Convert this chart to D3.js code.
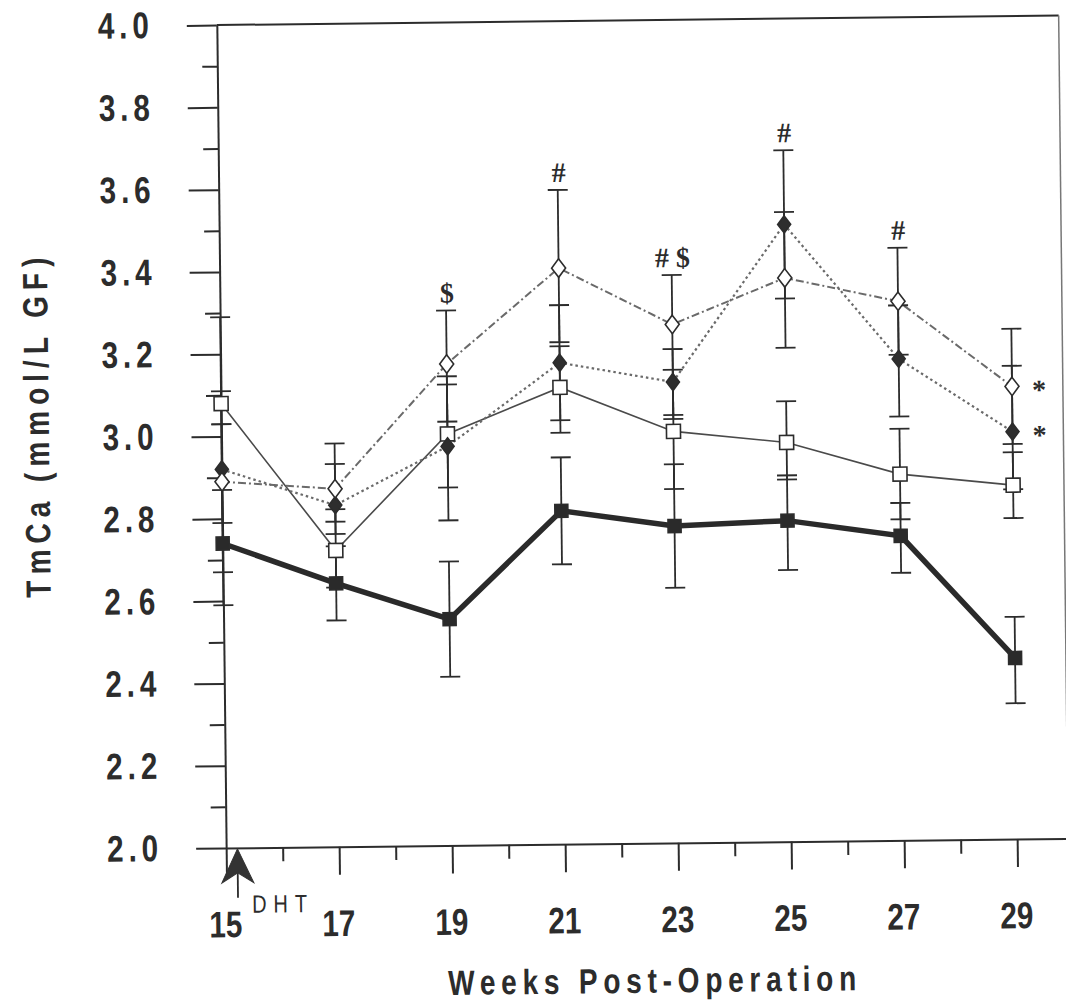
<!DOCTYPE html>
<html>
<head>
<meta charset="utf-8">
<script src="https://cdn.jsdelivr.net/npm/d3@7"></script>
<style>
  body { margin: 0; background: #fff; }
  svg { display: block; }
</style>
</head>
<body>
<svg id="chart" width="1066" height="1004"></svg>
<script>
// ---- Data -------------------------------------------------------------
const weeks = [15, 17, 19, 21, 23, 25, 27, 29];
const xTickLabels = ["15", "17", "19", "21", "23", "25", "27", "29"];
const xMinorWeeks = [16, 18, 20, 22, 24, 26, 28];
const yTickValues = [2.0, 2.2, 2.4, 2.6, 2.8, 3.0, 3.2, 3.4, 3.6, 3.8, 4.0];
const yTickLabels = ["2.0", "2.2", "2.4", "2.6", "2.8", "3.0", "3.2", "3.4", "3.6", "3.8", "4.0"];
const yMinorValues = [2.1, 2.3, 2.5, 2.7, 2.9, 3.1, 3.3, 3.5, 3.7, 3.9];

// Group means with lower / upper error-bar ends (mmol/L GF)
const openDiamondMean = [2.89, 2.87, 3.17, 3.40, 3.26, 3.37, 3.31, 3.10];
const openDiamondLow  = [2.67, 2.76, 3.03, 3.22, 3.03, 3.20, 3.18, 2.96];
const openDiamondHigh = [3.29, 2.98, 3.30, 3.59, 3.38, 3.53, 3.44, 3.24];

const filledDiamondMean = [2.92, 2.83, 2.97, 3.17, 3.12, 3.50, 3.17, 2.99];
const filledDiamondLow  = [2.79, 2.79, 2.79, 3.03, 3.04, 3.32, 3.03, 2.85];
const filledDiamondHigh = [3.03, 2.93, 3.14, 3.31, 3.20, 3.68, 3.30, 3.15];

const openSquareMean = [3.08, 2.72, 3.00, 3.11, 3.00, 2.97, 2.89, 2.86];
const openSquareLow  = [3.03, 2.63, 2.87, 3.00, 2.86, 2.88, 2.78, 2.78];
const openSquareHigh = [3.11, 2.82, 3.12, 3.21, 3.15, 3.07, 3.00, 2.94];

const filledSquareMean = [2.74, 2.64, 2.55, 2.81, 2.77, 2.78, 2.74, 2.44];
const filledSquareLow  = [2.59, 2.55, 2.41, 2.68, 2.62, 2.66, 2.65, 2.33];
const filledSquareHigh = [2.87, 2.73, 2.69, 2.94, 2.92, 2.89, 2.82, 2.54];

// Significance marks placed above the tallest error bar of a week
const markWeeks = [19, 21, 23, 25, 27];
const markTexts = ["$", "#", "# $", "#", "#"];
// Series flagged at the final week
const starredSeries = ["openDiamond", "filledDiamond"];
const starText = "*";

// Start of DHT treatment
const dhtWeek = 15.2;
const dhtLabel = "DHT";

const xTitle = "Weeks Post-Operation";
const yTitle = "TmCa (mmol/L GF)";

// ---- Layout -----------------------------------------------------------
const W = 1066, H = 1004;
const SANS = "'Liberation Sans Narrow', 'Arial Narrow', 'Liberation Sans', Arial, sans-serif";
const SERIF = "'Liberation Serif', 'Times New Roman', serif";
const INK = "#2c2c2c";
const NARROW = 0.8;   // horizontal squeeze giving the condensed lettering

const svg = d3.select("#chart");
svg.append("rect").attr("width", W).attr("height", H).attr("fill", "#fff");

// the whole figure sits very slightly tilted on the page
const g = svg.append("g").attr("transform", "rotate(-0.65,620,436)");

const x = d3.scaleLinear().domain([15, 29.9]).range([221.5, 1063.4]);
const y = d3.scaleLinear().domain([2, 4]).range([843.5, 20.5]);

const x0 = x.range()[0], x1 = x.range()[1];
const yBottom = y.range()[0], yTop = y.range()[1];

// condense text horizontally around its anchor; optional final width
function condense(sel, finalWidth) {
  sel.each(function () {
    const t = d3.select(this);
    const ax = +t.attr("x") || 0, ay = +t.attr("y") || 0;
    t.attr("transform", `translate(${ax},${ay}) scale(${NARROW},1) translate(${-ax},${-ay})`);
    if (finalWidth) t.attr("textLength", finalWidth / NARROW).attr("lengthAdjust", "spacing");
  });
}

// ---- Axes -------------------------------------------------------------
function styleAxis(sel) {
  sel.selectAll("path.domain").attr("stroke", INK).attr("stroke-width", 2);
  sel.selectAll(".tick line").attr("stroke", INK).attr("stroke-width", 2);
}

const yAxisMajor = g.append("g")
  .attr("transform", `translate(${x0},0)`)
  .call(d3.axisLeft(y)
    .tickValues(yTickValues)
    .tickFormat((d, i) => yTickLabels[i])
    .tickSize(30).tickSizeOuter(0).tickPadding(38));
styleAxis(yAxisMajor);
yAxisMajor.selectAll("text")
  .attr("font-family", SANS).attr("font-weight", "bold")
  .attr("font-size", 37).attr("fill", INK)
  .call(condense, 51);

const yAxisMinor = g.append("g")
  .attr("transform", `translate(${x0},0)`)
  .call(d3.axisLeft(y).tickValues(yMinorValues).tickFormat(() => "")
    .tickSize(15).tickSizeOuter(0));
yAxisMinor.select("path.domain").remove();
styleAxis(yAxisMinor);

const xAxisMajor = g.append("g")
  .attr("transform", `translate(0,${yBottom})`)
  .call(d3.axisBottom(x)
    .tickValues(weeks)
    .tickFormat((d, i) => xTickLabels[i])
    .tickSize(28).tickSizeOuter(0).tickPadding(35));
styleAxis(xAxisMajor);
xAxisMajor.selectAll("text")
  .attr("font-family", SANS).attr("font-weight", "bold")
  .attr("font-size", 37).attr("fill", INK)
  .attr("dx", -2)
  .call(condense);

const xAxisMinor = g.append("g")
  .attr("transform", `translate(0,${yBottom})`)
  .call(d3.axisBottom(x).tickValues(xMinorWeeks).tickFormat(() => "")
    .tickSize(14).tickSizeOuter(0));
xAxisMinor.select("path.domain").remove();
styleAxis(xAxisMinor);

// top and right frame lines
g.append("line").attr("x1", x0).attr("x2", x1).attr("y1", yTop).attr("y2", yTop)
  .attr("stroke", INK).attr("stroke-width", 2);
g.append("line").attr("x1", x1).attr("x2", x1).attr("y1", yTop).attr("y2", yBottom)
  .attr("stroke", "#777").attr("stroke-width", 1.5);

// axis titles
g.append("text")
  .attr("x", 646).attr("y", 993)
  .attr("text-anchor", "middle")
  .attr("font-family", SANS).attr("font-weight", "bold")
  .attr("font-size", 35).attr("fill", INK)
  .text(xTitle)
  .call(condense, 408);

g.append("text")
  .attr("transform", `translate(49,421) rotate(-90) scale(${NARROW},1)`)
  .attr("text-anchor", "middle")
  .attr("font-family", SANS).attr("font-weight", "bold")
  .attr("font-size", 35).attr("fill", INK)
  .attr("textLength", 340 / NARROW).attr("lengthAdjust", "spacing")
  .text(yTitle);

// ---- Series -----------------------------------------------------------
const series = [
  { key: "filledSquare", mean: filledSquareMean, low: filledSquareLow, high: filledSquareHigh,
    shape: "square", fill: "#2a2a2a", size: 13,
    line: { stroke: "#2a2a2a", width: 5.5, dash: null } },
  { key: "openSquare", mean: openSquareMean, low: openSquareLow, high: openSquareHigh,
    shape: "square", fill: "#fff", size: 14,
    line: { stroke: "#4a4a4a", width: 1.6, dash: null } },
  { key: "filledDiamond", mean: filledDiamondMean, low: filledDiamondLow, high: filledDiamondHigh,
    shape: "diamond", fill: "#2e2e2e", size: 13,
    line: { stroke: "#6a6a6a", width: 2.2, dash: "2.5,3" } },
  { key: "openDiamond", mean: openDiamondMean, low: openDiamondLow, high: openDiamondHigh,
    shape: "diamond", fill: "#fff", size: 14,
    line: { stroke: "#6a6a6a", width: 2, dash: "8,3,2,3" } }
];

const rows = s => weeks.map((w, i) => ({ week: w, mean: s.mean[i], low: s.low[i], high: s.high[i] }));

// connecting lines
const lineGen = d3.line().x(d => x(d.week)).y(d => y(d.mean));
series.forEach(s => {
  g.append("path")
    .datum(rows(s))
    .attr("d", lineGen)
    .attr("fill", "none")
    .attr("stroke", s.line.stroke)
    .attr("stroke-width", s.line.width)
    .attr("stroke-dasharray", s.line.dash)
    .attr("stroke-linejoin", "miter");
});

// error bars
const capHalf = 10;
series.forEach(s => {
  const eb = g.append("g").attr("stroke", INK).attr("stroke-width", 1.8);
  const d = rows(s);
  eb.selectAll("line.stem").data(d).join("line").attr("class", "stem")
    .attr("x1", r => x(r.week)).attr("x2", r => x(r.week))
    .attr("y1", r => y(r.low)).attr("y2", r => y(r.high));
  eb.selectAll("line.capHi").data(d).join("line").attr("class", "capHi")
    .attr("x1", r => x(r.week) - capHalf).attr("x2", r => x(r.week) + capHalf)
    .attr("y1", r => y(r.high)).attr("y2", r => y(r.high));
  eb.selectAll("line.capLo").data(d).join("line").attr("class", "capLo")
    .attr("x1", r => x(r.week) - capHalf).attr("x2", r => x(r.week) + capHalf)
    .attr("y1", r => y(r.low)).attr("y2", r => y(r.low));
});

// markers
function markerPath(shape, cx, cy, size) {
  if (shape === "diamond") {
    const hw = size / 2, hh = size * 0.66;
    return `M${cx},${cy - hh}L${cx + hw},${cy}L${cx},${cy + hh}L${cx - hw},${cy}Z`;
  }
  const h = size / 2;
  return `M${cx - h},${cy - h}H${cx + h}V${cy + h}H${cx - h}Z`;
}
series.forEach(s => {
  g.append("g").selectAll("path").data(rows(s)).join("path")
    .attr("d", r => markerPath(s.shape, x(r.week), y(r.mean), s.size))
    .attr("fill", s.fill)
    .attr("stroke", INK)
    .attr("stroke-width", 1.6);
});

// ---- Annotations ------------------------------------------------------
markWeeks.forEach((w, k) => {
  const i = weeks.indexOf(w);
  const top = d3.max(series, s => s.high[i]);
  g.append("text")
    .attr("x", x(w) + 1).attr("y", y(top) - 8)
    .attr("text-anchor", "middle")
    .attr("font-family", SERIF).attr("font-weight", "bold")
    .attr("font-size", 28).attr("fill", INK)
    .text(markTexts[k]);
});

starredSeries.forEach(key => {
  const s = series.find(d => d.key === key);
  const i = weeks.length - 1;
  g.append("text")
    .attr("x", x(weeks[i]) + 27).attr("y", y(s.mean[i]) + 13)
    .attr("text-anchor", "middle")
    .attr("font-family", SERIF).attr("font-weight", "bold")
    .attr("font-size", 28).attr("fill", INK)
    .text(starText);
});

// DHT arrow below the week axis
const ax = x(dhtWeek);
g.append("line")
  .attr("x1", ax).attr("x2", ax).attr("y1", yBottom + 24).attr("y2", yBottom + 50)
  .attr("stroke", INK).attr("stroke-width", 1.8);
g.append("path")
  .attr("d", `M${ax},${yBottom + 1}L${ax + 16},${yBottom + 35}L${ax},${yBottom + 25}L${ax - 16},${yBottom + 35}Z`)
  .attr("fill", "#333").attr("stroke", "#333").attr("stroke-width", 1);
g.append("text")
  .attr("x", ax + 14).attr("y", yBottom + 65)
  .attr("font-family", SANS).attr("font-size", 25).attr("fill", INK)
  .text(dhtLabel)
  .call(condense, 55);
</script>
</body>
</html>
